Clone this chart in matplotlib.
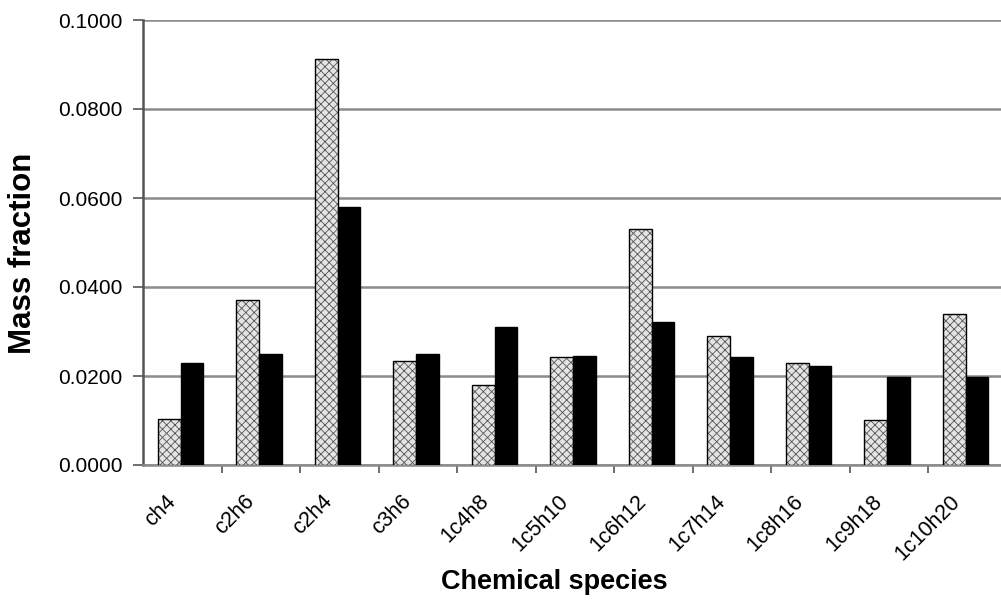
import matplotlib
matplotlib.use("Agg")
import matplotlib.pyplot as plt
import numpy as np

categories = ["ch4", "c2h6", "c2h4", "c3h6", "1c4h8", "1c5h10", "1c6h12",
              "1c7h14", "1c8h16", "1c9h18", "1c10h20"]
hatched_vals = [0.0103, 0.0370, 0.0912, 0.0233, 0.0180, 0.0242, 0.0530,
                0.0290, 0.0229, 0.0101, 0.0340]
black_vals = [0.0230, 0.0250, 0.0580, 0.0250, 0.0310, 0.0245, 0.0321,
              0.0242, 0.0222, 0.0198, 0.0198]
yticks = [0.0, 0.02, 0.04, 0.06, 0.08, 0.10]
ytick_labels = ["0.0000", "0.0200", "0.0400", "0.0600", "0.0800", "0.1000"]

plt.rcParams['font.family'] = ['Liberation Sans', 'DejaVu Sans']
plt.rcParams['hatch.linewidth'] = 0.6

W, H = 1001, 601
fig = plt.figure(figsize=(W / 100, H / 100), dpi=100)
left_px, right_px, top_px, bot_px = 143, 1001, 20, 465
ax = fig.add_axes([left_px / W, 1 - bot_px / H, (right_px - left_px) / W,
                   (bot_px - top_px) / H])

x = np.arange(len(categories))
bw = 0.29
off = -0.02
ax.bar(x + off - bw / 2, hatched_vals, bw, color='#e4e4e4', edgecolor='#555555',
       hatch='xxxx', linewidth=0, zorder=3)
ax.bar(x + off - bw / 2, hatched_vals, bw, fill=False, edgecolor='black',
       linewidth=1.0, zorder=4)
ax.bar(x + off + bw / 2, black_vals, bw, color='black', edgecolor='black',
       linewidth=1.0, zorder=3)

cat_w = 78.5
ax.set_xlim(-0.5, -0.5 + (right_px - left_px) / cat_w)
ax.set_ylim(0, 0.1)

ax.set_yticks(yticks)
ax.set_yticklabels(ytick_labels, fontsize=15)
ax.yaxis.grid(True, color='#8a8a8a', linewidth=1.8, zorder=0)
ax.set_axisbelow(True)

ax.set_xticks(np.arange(0.5, len(categories) - 0.5, 1.0))
ax.set_xticklabels([])
label_shift = -10 / cat_w
ax.set_xticks(x + label_shift, minor=True)
ax.set_xticklabels(categories, minor=True, rotation=45, ha='right', va='center',
                   rotation_mode='anchor', fontsize=15.5)
ax.tick_params(axis='x', which='minor', length=0, pad=24)
ax.tick_params(axis='x', which='major', length=6, width=1.2, color='#555555')
ax.tick_params(axis='y', length=7, width=1.2, color='#555555', pad=8)

for s in ['top', 'right']:
    ax.spines[s].set_visible(False)
ax.spines['left'].set_color('#555555')
ax.spines['left'].set_linewidth(1.8)
ax.spines['bottom'].set_color('#8a8a8a')
ax.spines['bottom'].set_linewidth(1.8)

fig.text(554 / W, 1 - 582 / H, "Chemical species", ha='center', va='center',
         fontsize=19.5, fontweight='bold')
fig.text(23 / W, 1 - 253 / H, "Mass fraction", ha='center', va='center',
         rotation=90, fontsize=22.5, fontweight='bold')

fig.savefig("out.png", dpi=100)
